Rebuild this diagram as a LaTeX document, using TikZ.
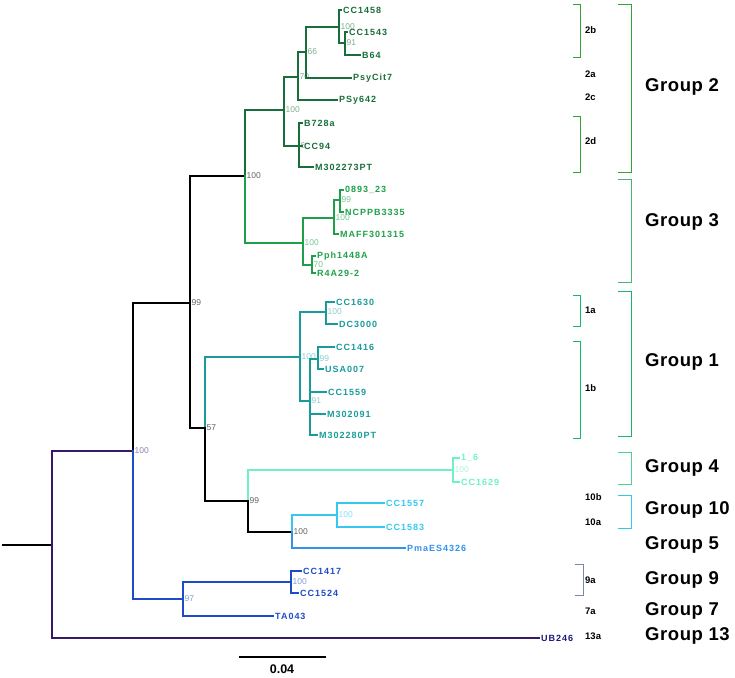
\documentclass[tikz,border=0pt]{standalone}
\usepackage{fontspec}
\setmainfont{Liberation Sans}
\newfontfamily\taxfont{Liberation Sans}[LetterSpace=11]
\newfontfamily\grpfont{Liberation Sans}[LetterSpace=3]
\usepackage{xcolor}
\usepackage{tikz}
\usetikzlibrary{positioning}

\definecolor{grpTwo}{RGB}{24,110,58}
\definecolor{grpThree}{RGB}{30,160,75}
\definecolor{grpOne}{RGB}{25,155,155}
\definecolor{grpFour}{RGB}{110,240,200}
\definecolor{grpTen}{RGB}{50,200,240}
\definecolor{grpFive}{RGB}{50,145,235}
\definecolor{grpNine}{RGB}{30,75,200}
\definecolor{rootPurple}{RGB}{55,25,100}
\definecolor{ubNavy}{RGB}{25,25,120}

\begin{document}
\begin{tikzpicture}[
        x=1pt, y=-1pt,
        branch/.style={line width=2.8pt, line cap=rect},
        taxon/.style={anchor=west, inner sep=2pt, font=\taxfont\bfseries\fontsize{9}{9}\selectfont},
        boot/.style={anchor=west, inner sep=1.5pt, font=\fontsize{8.5}{8.5}\selectfont},
        sub/.style={anchor=west, inner sep=0pt, font=\bfseries\fontsize{9.5}{9.5}\selectfont},
        group/.style={anchor=west, inner sep=0pt, font=\grpfont\bfseries\fontsize{18.5}{18.5}\selectfont},
        brace/.style={line width=1pt}
    ]
        \useasboundingbox (0,0) rectangle (735,677);

        % inner nodes
        \coordinate (stem) at (3,545);
        \coordinate (root) at (52,545);
        \coordinate (nIn) at (133,451);
        \coordinate (nUp) at (190,303);
        \coordinate (nGroupTT) at (245,176);
        \coordinate (nTwoA) at (284,110);
        \coordinate (nTwoB) at (298,77);
        \coordinate (nTwoC) at (306,52);
        \coordinate (nTwoD) at (339,27);
        \coordinate (nTwoE) at (345,43);
        \coordinate (nTwoF) at (299,146);
        \coordinate (nThree) at (303,243);
        \coordinate (nThreeH) at (334,218);
        \coordinate (nThreeJ) at (340,200);
        \coordinate (nThreeI) at (312,265);
        \coordinate (nLow) at (205,428);
        \coordinate (nOne) at (300,357);
        \coordinate (nOneA) at (326,312);
        \coordinate (nOneB) at (310,401);
        \coordinate (nOneC) at (318,359);
        \coordinate (nFourTen) at (248,501);
        \coordinate (nFour) at (453,470);
        \coordinate (nTenFive) at (292,532);
        \coordinate (nTen) at (337,515);
        \coordinate (nNineSeven) at (183,599);
        \coordinate (nNine) at (291,582);

        % taxa
        \node[taxon, text=grpTwo] (cc1458) at (341,10) {CC1458};
        \node[taxon, text=grpTwo] (cc1543) at (347,32) {CC1543};
        \node[taxon, text=grpTwo] (b64) at (360,55) {B64};
        \node[taxon, text=grpTwo] (psycit7) at (351,78) {PsyCit7};
        \node[taxon, text=grpTwo] (psy642) at (337,100) {PSy642};
        \node[taxon, text=grpTwo] (b728a) at (302,123) {B728a};
        \node[taxon, text=grpTwo] (cc94) at (302,146) {CC94};
        \node[taxon, text=grpTwo] (m302273pt) at (313,167) {M302273PT};
        \node[taxon, text=grpThree] (p0893) at (343,190) {0893\_23};
        \node[taxon, text=grpThree] (ncppb3335) at (343,212) {NCPPB3335};
        \node[taxon, text=grpThree] (maff301315) at (338,234) {MAFF301315};
        \node[taxon, text=grpThree] (pph1448a) at (315,256) {Pph1448A};
        \node[taxon, text=grpThree] (r4a292) at (315,273) {R4A29-2};
        \node[taxon, text=grpOne] (cc1630) at (334,302) {CC1630};
        \node[taxon, text=grpOne] (dc3000) at (337,324) {DC3000};
        \node[taxon, text=grpOne] (cc1416) at (334,347) {CC1416};
        \node[taxon, text=grpOne] (usa007) at (323,369) {USA007};
        \node[taxon, text=grpOne] (cc1559) at (326,392) {CC1559};
        \node[taxon, text=grpOne] (m302091) at (325,414) {M302091};
        \node[taxon, text=grpOne] (m302280pt) at (317,435) {M302280PT};
        \node[taxon, text=grpFour] (one6) at (459,458) {1\_6};
        \node[taxon, text=grpFour] (cc1629) at (459,482) {CC1629};
        \node[taxon, text=grpTen] (cc1557) at (384,503) {CC1557};
        \node[taxon, text=grpTen] (cc1583) at (384,527) {CC1583};
        \node[taxon, text=grpFive] (pmaes4326) at (405,548) {PmaES4326};
        \node[taxon, text=grpNine] (cc1417) at (301,571) {CC1417};
        \node[taxon, text=grpNine] (cc1524) at (298,593) {CC1524};
        \node[taxon, text=grpNine] (ta043) at (273,616) {TA043};
        \node[taxon, text=ubNavy] (ub246) at (539,638) {UB246};

        % bootstrap values
        \node[boot, text=rootPurple!55] (bIn) at (nIn) {100};
        \node[boot, text=black!60] (bUp) at (nUp) {99};
        \node[boot, text=black!60] (bGroupTT) at (nGroupTT) {100};
        \node[boot, text=grpTwo!55] (bTwoA) at (nTwoA) {100};
        \node[boot, text=grpTwo!55] (bTwoB) at (nTwoB) {70};
        \node[boot, text=grpTwo!55] (bTwoC) at (nTwoC) {66};
        \node[boot, text=grpTwo!55] (bTwoD) at (nTwoD) {100};
        \node[boot, text=grpTwo!55] (bTwoE) at (nTwoE) {91};
        \node[boot, text=grpTwo!55] (bTwoF) at (nTwoF) {6};
        \node[boot, text=grpThree!60] (bThree) at (nThree) {100};
        \node[boot, text=grpThree!60] (bThreeH) at (nThreeH) {100};
        \node[boot, text=grpThree!60] (bThreeJ) at (nThreeJ) {99};
        \node[boot, text=grpThree!60] (bThreeI) at (nThreeI) {70};
        \node[boot, text=black!60] (bLow) at (nLow) {57};
        \node[boot, text=grpOne!50] (bOne) at (nOne) {100};
        \node[boot, text=grpOne!50] (bOneA) at (nOneA) {100};
        \node[boot, text=grpOne!50] (bOneB) at (nOneB) {91};
        \node[boot, text=grpOne!50] (bOneC) at (nOneC) {99};
        \node[boot, text=black!60] (bFourTen) at (nFourTen) {99};
        \node[boot, text=grpFour!60] (bFour) at (nFour) {100};
        \node[boot, text=black!60] (bTenFive) at (nTenFive) {100};
        \node[boot, text=grpTen!60] (bTen) at (nTen) {100};
        \node[boot, text=grpNine!55] (bNineSeven) at (nNineSeven) {97};
        \node[boot, text=grpNine!55] (bNine) at (nNine) {100};

        % branches
        \draw[branch] (stem) -- (root);
        \draw[branch, rootPurple] (root) |- (nIn);
        \draw[branch, rootPurple] (root) |- (ub246.west);
        \draw[branch] (nIn) |- (nUp);
        \draw[branch, grpNine] (nIn) |- (nNineSeven);
        \draw[branch] (nUp) |- (nGroupTT);
        \draw[branch] (nUp) |- (nLow);
        \draw[branch, grpTwo] (nGroupTT) |- (nTwoA);
        \draw[branch, grpThree] (nGroupTT) |- (nThree);
        \draw[branch, grpTwo] (nTwoA) |- (nTwoB);
        \draw[branch, grpTwo] (nTwoA) |- (nTwoF);
        \draw[branch, grpTwo] (nTwoB) |- (nTwoC);
        \draw[branch, grpTwo] (nTwoB) |- (psy642.west);
        \draw[branch, grpTwo] (nTwoC) |- (nTwoD);
        \draw[branch, grpTwo] (nTwoC) |- (psycit7.west);
        \draw[branch, grpTwo] (nTwoD) |- (cc1458.west);
        \draw[branch, grpTwo] (nTwoD) |- (nTwoE);
        \draw[branch, grpTwo] (nTwoE) |- (cc1543.west);
        \draw[branch, grpTwo] (nTwoE) |- (b64.west);
        \draw[branch, grpTwo] (nTwoF) |- (b728a.west);
        \draw[branch, grpTwo] (nTwoF) -- (cc94.west);
        \draw[branch, grpTwo] (nTwoF) |- (m302273pt.west);
        \draw[branch, grpThree] (nThree) |- (nThreeH);
        \draw[branch, grpThree] (nThree) |- (nThreeI);
        \draw[branch, grpThree] (nThreeH) |- (nThreeJ);
        \draw[branch, grpThree] (nThreeH) |- (maff301315.west);
        \draw[branch, grpThree] (nThreeJ) |- (p0893.west);
        \draw[branch, grpThree] (nThreeJ) |- (ncppb3335.west);
        \draw[branch, grpThree] (nThreeI) |- (pph1448a.west);
        \draw[branch, grpThree] (nThreeI) |- (r4a292.west);
        \draw[branch, grpOne] (nLow) |- (nOne);
        \draw[branch] (nLow) |- (nFourTen);
        \draw[branch, grpOne] (nOne) |- (nOneA);
        \draw[branch, grpOne] (nOne) |- (nOneB);
        \draw[branch, grpOne] (nOneA) |- (cc1630.west);
        \draw[branch, grpOne] (nOneA) |- (dc3000.west);
        \draw[branch, grpOne] (nOneB) |- (nOneC);
        \draw[branch, grpOne] (nOneB) |- (cc1559.west);
        \draw[branch, grpOne] (nOneB) |- (m302091.west);
        \draw[branch, grpOne] (nOneB) |- (m302280pt.west);
        \draw[branch, grpOne] (nOneC) |- (cc1416.west);
        \draw[branch, grpOne] (nOneC) |- (usa007.west);
        \draw[branch, grpFour] (nFourTen) |- (nFour);
        \draw[branch] (nFourTen) |- (nTenFive);
        \draw[branch, grpFour] (nFour) |- (one6.west);
        \draw[branch, grpFour] (nFour) |- (cc1629.west);
        \draw[branch, grpTen] (nTenFive) |- (nTen);
        \draw[branch, grpFive] (nTenFive) |- (pmaes4326.west);
        \draw[branch, grpTen] (nTen) |- (cc1557.west);
        \draw[branch, grpTen] (nTen) |- (cc1583.west);
        \draw[branch, grpNine] (nNineSeven) |- (nNine);
        \draw[branch, grpNine] (nNineSeven) |- (ta043.west);
        \draw[branch, grpNine] (nNine) |- (cc1417.west);
        \draw[branch, grpNine] (nNine) |- (cc1524.west);

        % scale bar
        \coordinate (barL) at (239,657);
        \coordinate (barR) at (326,657);
        \draw[line width=2.4pt] (barL) -- (barR);
        \node[font=\bfseries\fontsize{12.5}{12.5}\selectfont] (barText) at (282,669) {0.04};

        % brackets and groups
        \draw[brace, green!55!black!80] (618,5) -- (631,5) -- (631,172) -- (618,172);
        \draw[brace, green!55!black!80] (573,5) -- (580,5) -- (580,57) -- (573,57);
        \draw[brace, green!55!black!80] (573,116) -- (580,116) -- (580,172) -- (573,172);
        \draw[brace, grpThree!80!white] (618,179) -- (631,179) -- (631,282) -- (618,282);
        \draw[brace, grpOne!70!green] (618,291) -- (631,291) -- (631,436) -- (618,436);
        \draw[brace, grpOne!70!green] (573,295) -- (580,295) -- (580,326) -- (573,326);
        \draw[brace, grpOne!70!green] (573,341) -- (580,341) -- (580,438) -- (573,438);
        \draw[brace, grpFour!60!grpThree] (618,452) -- (631,452) -- (631,484) -- (618,484);
        \draw[brace, grpTen] (618,495) -- (631,495) -- (631,528) -- (618,528);
        \draw[brace, grpNine!40!gray!80] (575,564) -- (583,564) -- (583,595) -- (575,595);

        \node[sub] (s2b) at (585,30) {2b};
        \node[sub] (s2a) at (585,74) {2a};
        \node[sub] (s2c) at (585,97) {2c};
        \node[sub] (s2d) at (585,141) {2d};
        \node[sub] (s1a) at (585,310) {1a};
        \node[sub] (s1b) at (585,388) {1b};
        \node[sub] (s10b) at (585,497) {10b};
        \node[sub] (s10a) at (585,522) {10a};
        \node[sub] (s9a) at (585,580) {9a};
        \node[sub] (s7a) at (585,611) {7a};
        \node[sub] (s13a) at (585,636) {13a};

        \node[group] (g2) at (645,87) {Group 2};
        \node[group] (g3) at (645,222) {Group 3};
        \node[group] (g1) at (645,362) {Group 1};
        \node[group] (g4) at (645,468) {Group 4};
        \node[group] (g10) at (645,510) {Group 10};
        \node[group] (g5) at (645,545) {Group 5};
        \node[group] (g9) at (645,580) {Group 9};
        \node[group] (g7) at (645,611) {Group 7};
        \node[group] (g13) at (645,636) {Group 13};
    \end{tikzpicture}
\end{document}
